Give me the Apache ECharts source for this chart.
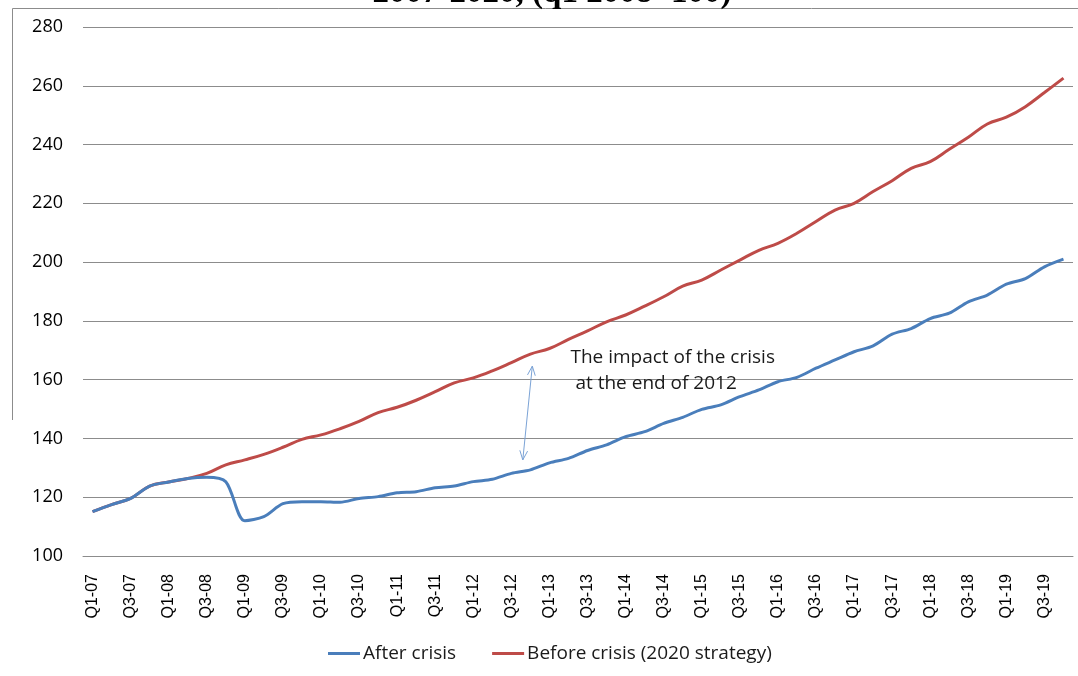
<!DOCTYPE html>
<html>
<head>
<meta charset="utf-8">
<script src="https://cdn.jsdelivr.net/npm/echarts@6/dist/echarts.min.js"></script>
<style>
  html, body { margin: 0; padding: 0; background: #fff; }
  #chart { width: 1078px; height: 676px; }
</style>
</head>
<body>
<div id="chart"></div>
<script>
// quarters Q1-07 .. Q4-19
const quarters = [];
for (let y = 7; y <= 19; y++) {
  for (let q = 1; q <= 4; q++) {
    quarters.push("Q" + q + "-" + (y < 10 ? "0" + y : y));
  }
}

const afterCrisis = [
  115.1, 117.5, 119.6, 123.8, 125.2, 126.4, 126.8, 125.3,
  112.0, 113.4, 117.8, 118.5, 118.5, 118.3, 119.6, 120.2,
  121.5, 121.9, 123.2, 123.8, 125.3, 126.1, 128.1, 129.3,
  131.7, 133.2, 135.9, 137.8, 140.6, 142.3, 145.1, 147.2,
  149.9, 151.4, 154.2, 156.5, 159.3, 160.8, 163.9, 166.7,
  169.5, 171.5, 175.5, 177.4, 180.8, 182.6, 186.5, 188.8,
  192.5, 194.4, 198.4, 201.0
];

const beforeCrisis = [
  115.1, 117.5, 119.6, 123.8, 125.2, 126.4, 128.1, 131.0,
  132.7, 134.6, 137.0, 139.7, 141.2, 143.3, 145.8, 148.8,
  150.6, 153.0, 155.9, 158.9, 160.6, 163.0, 165.8, 168.7,
  170.6, 173.7, 176.6, 179.7, 182.0, 185.0, 188.2, 191.8,
  193.9, 197.3, 200.7, 204.0, 206.4, 209.8, 213.8, 217.7,
  220.0, 224.0, 227.7, 231.9, 234.2, 238.4, 242.5, 247.0,
  249.3, 252.9, 257.7, 262.6
];

const seriesNames = ["After crisis", "Before crisis (2020 strategy)"];
const titleText = "2007-2020, (q1 2008=100)";
const noteLines = ["The impact of the crisis", " at the end of 2012"];
// arrow ends: [category index, value]
const arrowTop = [23.1, 164.6];
const arrowBottom = [22.6, 132.7];

const chart = echarts.init(document.getElementById("chart"));

const option = {
  animation: false,
  backgroundColor: "#fff",
  textStyle: { fontFamily: "Liberation Sans, Arial, sans-serif" },
  legend: {
    bottom: 8,
    left: 323,
    itemWidth: 32,
    itemHeight: 3,
    itemGap: 36,
    icon: "rect",
    textStyle: { fontSize: 19, color: "#1a1a1a", fontFamily: "Open Sans, sans-serif", padding: [0, 0, 0, -2] },
    data: seriesNames
  },
  grid: { left: 83, right: 5, top: 27, bottom: 120 },
  xAxis: {
    type: "category",
    boundaryGap: true,
    data: quarters,
    axisLine: { show: true, lineStyle: { color: "#8c8c8c" } },
    axisTick: { show: false },
    axisLabel: {
      interval: 1,
      rotate: 90,
      margin: 18,
      fontSize: 16,
      color: "#000"
    }
  },
  yAxis: {
    type: "value",
    min: 100,
    max: 280,
    interval: 20,
    axisLine: { show: false },
    axisTick: { show: false },
    axisLabel: { fontSize: 18, color: "#000", margin: 20, fontFamily: "Open Sans, sans-serif" },
    splitLine: { lineStyle: { color: "#8c8c8c", width: 1 } }
  },
  series: [
    {
      name: seriesNames[0],
      type: "line",
      data: afterCrisis,
      smooth: 0.3,
      symbol: "none",
      lineStyle: { color: "#4a7ebb", width: 3 },
      itemStyle: { color: "#4a7ebb" },
      z: 3
    },
    {
      name: seriesNames[1],
      type: "line",
      data: beforeCrisis,
      smooth: 0.4,
      symbol: "none",
      lineStyle: { color: "#be4b48", width: 3 },
      itemStyle: { color: "#be4b48" },
      z: 2
    }
  ]
};

chart.setOption(option);

// annotation arrow + text, placed from data coordinates
function toPx(pt) {
  const i0 = Math.floor(pt[0]);
  const a = chart.convertToPixel({ gridIndex: 0 }, [i0, pt[1]]);
  const b = chart.convertToPixel({ gridIndex: 0 }, [i0 + 1, pt[1]]);
  return [a[0] + (b[0] - a[0]) * (pt[0] - i0), a[1]];
}
const p1 = toPx(arrowTop);
const p2 = toPx(arrowBottom);
const ang = Math.atan2(p2[1] - p1[1], p2[0] - p1[0]);
function head(p, dir) {
  const len = 10, spread = 0.4;
  const a1 = dir + Math.PI - spread, a2 = dir + Math.PI + spread;
  return [
    [p[0] + len * Math.cos(a1), p[1] + len * Math.sin(a1)],
    p,
    [p[0] + len * Math.cos(a2), p[1] + len * Math.sin(a2)]
  ];
}
const arrowStyle = { stroke: "#7ba3d6", lineWidth: 1, fill: null };
const notePos = chart.convertToPixel({ gridIndex: 0 }, [25, 163]);

chart.setOption({
  graphic: [
    {
      type: "line",
      shape: { x1: 12.5, y1: 8.5, x2: 1078, y2: 8.5 },
      style: { stroke: "#8c8c8c", lineWidth: 1 }
    },
    {
      type: "line",
      shape: { x1: 12.5, y1: 8.5, x2: 12.5, y2: 420 },
      style: { stroke: "#8c8c8c", lineWidth: 1 }
    },
    {
      type: "text",
      x: 552,
      y: 10,
      style: {
        text: titleText,
        font: "bold 33px 'Liberation Serif', serif",
        fill: "#000",
        align: "center",
        verticalAlign: "bottom"
      }
    },
    {
      type: "line",
      shape: { x1: p1[0], y1: p1[1], x2: p2[0], y2: p2[1] },
      style: arrowStyle
    },
    { type: "polyline", shape: { points: head(p1, ang + Math.PI) }, style: arrowStyle },
    { type: "polyline", shape: { points: head(p2, ang) }, style: arrowStyle },
    {
      type: "text",
      x: notePos[0] + 2,
      y: notePos[1] - 26,
      style: {
        text: noteLines.join("\n"),
        font: "19px 'Open Sans', sans-serif",
        lineHeight: 26,
        fill: "#1a1a1a"
      }
    }
  ]
});
</script>
</body>
</html>
